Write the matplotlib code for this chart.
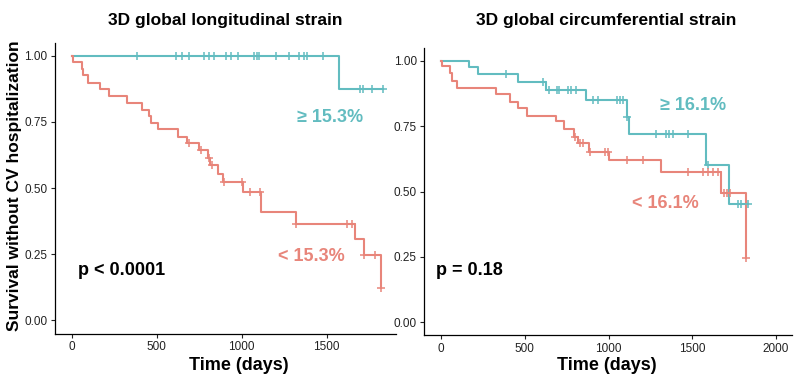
import numpy as np
import matplotlib
matplotlib.use('Agg')
import matplotlib.pyplot as plt

plt.rcParams['font.family'] = ['Liberation Sans', 'DejaVu Sans']

RED = '#E8857A'
TEAL = '#62BCC0'

# --- 3D global longitudinal strain ---
gls_hi_t = [0, 1574, 1829]
gls_hi_s = [1.0, 0.875, 0.875]
gls_hi_cens_t = [386, 612, 651, 690, 780, 809, 839, 908, 937, 976, 1074, 1088, 1102,
                 1202, 1280, 1339, 1368, 1386, 1476, 1696, 1715, 1765, 1829]

gls_lo_t = [0, 6, 59, 68, 98, 166, 219, 323, 412, 457, 465, 510, 623, 676, 750, 800,
            815, 862, 890, 1006, 1114, 1318, 1666, 1719, 1819]
gls_lo_s = [1.0, 0.977, 0.949, 0.927, 0.898, 0.873, 0.848, 0.822, 0.795, 0.772, 0.744,
            0.722, 0.694, 0.669, 0.645, 0.614, 0.587, 0.553, 0.521, 0.486, 0.408, 0.364,
            0.306, 0.245, 0.122]
gls_lo_cens_t = [692, 759, 805, 825, 895, 1000, 1049, 1108, 1320, 1618, 1647, 1719, 1784, 1819]

# --- 3D global circumferential strain ---
gcs_hi_t = [0, 167, 219, 462, 625, 864, 1109, 1124, 1580, 1719, 1835]
gcs_hi_s = [1.0, 0.975, 0.948, 0.917, 0.888, 0.85, 0.786, 0.72, 0.601, 0.452, 0.452]
gcs_hi_cens_t = [388, 611, 647, 691, 705, 760, 776, 804, 909, 935, 1049, 1069, 1089, 1109,
                 1284, 1343, 1363, 1384, 1477, 1596, 1775, 1789, 1835]

gcs_lo_t = [0, 4, 54, 64, 97, 327, 412, 462, 512, 685, 736, 794, 816, 884, 1005, 1313,
            1672, 1819]
gcs_lo_s = [1.0, 0.98, 0.952, 0.924, 0.894, 0.871, 0.843, 0.818, 0.79, 0.769, 0.738,
            0.71, 0.684, 0.652, 0.62, 0.576, 0.495, 0.247]
gcs_lo_cens_t = [800, 830, 846, 890, 979, 999, 1109, 1204, 1477, 1562, 1592, 1622, 1652,
                 1691, 1706, 1725, 1819]


def surv_at(times, surv, t):
    idx = np.searchsorted(times, t, side='right') - 1
    return np.asarray(surv)[idx]


def draw_curve(ax, times, surv, cens, color):
    ax.step(times, surv, where='post', color=color, lw=1.5, zorder=3)
    cy = [surv_at(times, surv, c) for c in cens]
    ax.plot(cens, cy, ls='none', marker='+', ms=6, mew=1.1, color=color, zorder=4)


def style_axes(ax, xlim, xticks):
    ax.set_xlim(*xlim)
    ax.set_ylim(-0.05, 1.05)
    ax.set_xticks(xticks)
    ax.set_yticks([0, 0.25, 0.5, 0.75, 1.0])
    ax.set_yticklabels(['0.00', '0.25', '0.50', '0.75', '1.00'])
    for side in ['top', 'right']:
        ax.spines[side].set_visible(False)
    for side in ['left', 'bottom']:
        ax.spines[side].set_linewidth(0.9)
    ax.tick_params(labelsize=8.5, length=3, width=0.8, pad=2.5, colors='#222222')


fig = plt.figure(figsize=(8, 3.83), dpi=100)
ax1 = fig.add_axes([0.06875, 0.1292, 0.4259, 0.7598])
ax2 = fig.add_axes([0.5304, 0.1243, 0.4592, 0.7514])

draw_curve(ax1, gls_hi_t, gls_hi_s, gls_hi_cens_t, TEAL)
draw_curve(ax1, gls_lo_t, gls_lo_s, gls_lo_cens_t, RED)
style_axes(ax1, (-98, 1906), [0, 500, 1000, 1500])
ax1.text(1520, 0.765, '\u2265 15.3%', color=TEAL, fontsize=13, fontweight='bold', ha='center', va='center')
ax1.text(1410, 0.24, '< 15.3%', color=RED, fontsize=13, fontweight='bold', ha='center', va='center')
ax1.text(40, 0.19, 'p < 0.0001', color='black', fontsize=13, fontweight='bold', ha='left', va='center')

draw_curve(ax2, gcs_hi_t, gcs_hi_s, gcs_hi_cens_t, TEAL)
draw_curve(ax2, gcs_lo_t, gcs_lo_s, gcs_lo_cens_t, RED)
style_axes(ax2, (-100, 2094), [0, 500, 1000, 1500, 2000])
ax2.text(1505, 0.828, '\u2265 16.1%', color=TEAL, fontsize=13, fontweight='bold', ha='center', va='center')
ax2.text(1337, 0.455, '< 16.1%', color=RED, fontsize=13, fontweight='bold', ha='center', va='center')
ax2.text(-30, 0.198, 'p = 0.18', color='black', fontsize=13, fontweight='bold', ha='left', va='center')

# titles and axis labels placed in figure coordinates
fig.text(225 / 800, 1 - 20 / 383, '3D global longitudinal strain', fontsize=12.5,
         fontweight='bold', ha='center', va='center')
fig.text(606 / 800, 1 - 20 / 383, '3D global circumferential strain', fontsize=12.5,
         fontweight='bold', ha='center', va='center')
fig.text(239 / 800, 1 - 366 / 383, 'Time (days)', fontsize=13, fontweight='bold',
         ha='center', va='center')
fig.text(607 / 800, 1 - 366 / 383, 'Time (days)', fontsize=13, fontweight='bold',
         ha='center', va='center')
fig.text(15 / 800, 1 - 186 / 383, 'Survival without CV hospitalization', fontsize=12.5,
         fontweight='bold', rotation=90, ha='center', va='center')

fig.savefig('out.png', dpi=100)
